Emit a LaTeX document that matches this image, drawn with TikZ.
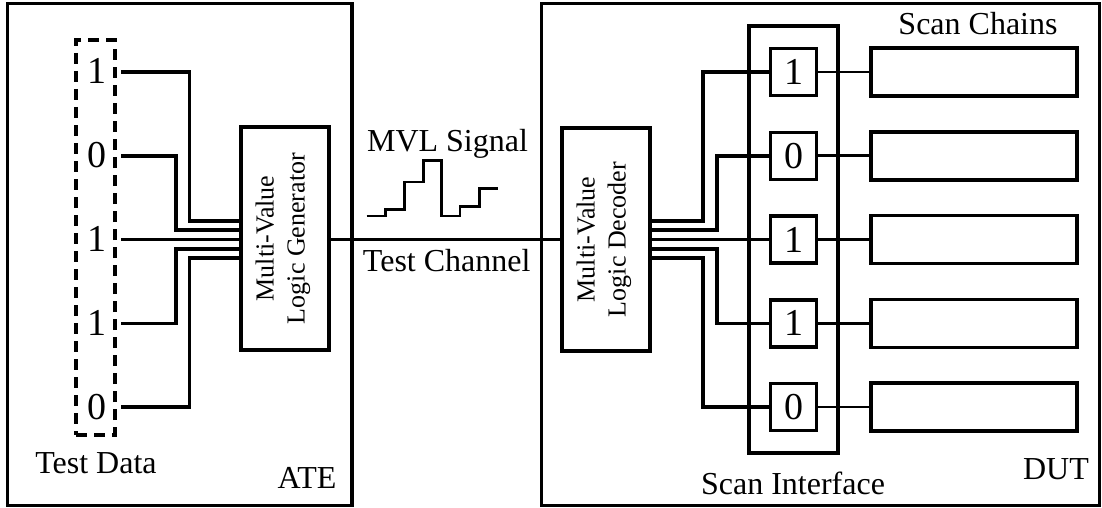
\documentclass[tikz,border=0pt]{standalone}
\usepackage{fontspec}
\setmainfont{Liberation Serif}
\usetikzlibrary{calc}
\begin{document}
\begin{tikzpicture}[x=1pt,y=-1pt,
  box/.style={draw, line width=3.5pt, inner sep=0pt},
  wire/.style={line width=3.5pt},
  thinwire/.style={line width=2.3pt},
  link/.style={line width=2.8pt},
  lbl/.style={font=\fontsize{32}{38}\selectfont, anchor=base, inner sep=0pt},
  dig/.style={font=\fontsize{38}{40}\selectfont, inner sep=0pt},
  rot/.style={font=\fontsize{26}{31}\selectfont, rotate=90, align=center, inner sep=0pt},
  cell/.style={box, minimum width=46pt, minimum height=47pt, font=\fontsize{38}{40}\selectfont},
  chain/.style={box, minimum width=206pt, minimum height=48pt}]
\useasboundingbox (0,0) rectangle (1102,508);

% outer boxes
\node[box, minimum width=344.3pt, minimum height=502pt] (ate) at (179.85,254.4) {};
\node[box, minimum width=557.8pt, minimum height=502pt] (dut) at (820.6,254.4) {};

% row coordinates
\coordinate (r1) at (0,72);
\coordinate (r2) at (0,155.75);
\coordinate (r3) at (0,239.5);
\coordinate (r4) at (0,323.25);
\coordinate (r5) at (0,407);

% test data
\node[draw, line width=3.5pt, dash pattern=on 11pt off 7pt, minimum width=39pt, minimum height=395pt, inner sep=0pt] (tdbox) at (95.5,237.5) {};
\node[dig, anchor=base] (d1) at (97,84) {1};
\node[dig, anchor=base] (d2) at (97,167.75) {0};
\node[dig, anchor=base] (d3) at (97,251.5) {1};
\node[dig, anchor=base] (d4) at (97,335.25) {1};
\node[dig, anchor=base] (d5) at (97,419) {0};

% generator
\node[box, minimum width=88pt, minimum height=223pt] (gen) at (285,238.5) {};
\node[rot] (genlbl) at (283,238.5) {Multi-Value\\Logic Generator};

% decoder
\node[box, minimum width=88pt, minimum height=223pt] (dec) at (606,239.5) {};
\node[rot] (declbl) at (604,239.5) {Multi-Value\\Logic Decoder};

% wire start points and bend columns (ATE)
\coordinate (s1) at (121,72);
\coordinate (s2) at (121,155.75);
\coordinate (s3) at (121,239.5);
\coordinate (s4) at (121,323.25);
\coordinate (s5) at (121,407);
\coordinate (xa) at (189.5,0);
\coordinate (xb) at (176,0);
\coordinate (gi1) at ($(gen.west |- r3)+(0,-18.6)$);
\coordinate (gi2) at ($(gen.west |- r3)+(0,-9.3)$);
\coordinate (gi4) at ($(gen.west |- r3)+(0,9.3)$);
\coordinate (gi5) at ($(gen.west |- r3)+(0,18.6)$);

\draw[wire] (s1) -| (gi1 -| xa) -- (gi1);
\draw[wire] (s2) -| (gi2 -| xb) -- (gi2);
\draw[thinwire] (s3) -- (gen.west |- s3);
\draw[wire] (s4) -| (gi4 -| xb) -- (gi4);
\draw[wire] (s5) -| (gi5 -| xa) -- (gi5);

% channel
\draw[thinwire] (gen.east |- r3) -- (dec.west |- r3);

% MVL waveform
\draw[line width=2.5pt] (366.7,216) -- (385.7,216) -- (385.7,209.5) -- (404.3,209.5) -- (404.3,182) -- (423.3,182) -- (423.3,160.3) -- (441.7,160.3) -- (441.7,216) -- (460,216) -- (460,206.7) -- (479.3,206.7) -- (479.3,188.3) -- (498.3,188.3);

% scan interface
\node[box, minimum width=89pt, minimum height=427pt] (sif) at (793.5,239.5) {};
\node[cell] (c1) at (793.5,72) {1};
\node[cell] (c2) at (793.5,155.75) {0};
\node[cell] (c3) at (793.5,239.5) {1};
\node[cell] (c4) at (793.5,323.25) {1};
\node[cell] (c5) at (793.5,407) {0};

% scan chains
\node[chain] (ch1) at (974,72) {};
\node[chain] (ch2) at (974,155.75) {};
\node[chain] (ch3) at (974,239.5) {};
\node[chain] (ch4) at (974,323.25) {};
\node[chain] (ch5) at (974,407) {};

% decoder outputs
\coordinate (xc) at (703,0);
\coordinate (xd) at (717,0);
\coordinate (do1) at ($(dec.east |- r3)+(0,-18.6)$);
\coordinate (do2) at ($(dec.east |- r3)+(0,-9.3)$);
\coordinate (do4) at ($(dec.east |- r3)+(0,9.3)$);
\coordinate (do5) at ($(dec.east |- r3)+(0,18.6)$);

\draw[wire] (do1) -| (c1.west -| xc) -- (c1.west);
\draw[wire] (do2) -| (c2.west -| xd) -- (c2.west);
\draw[thinwire] (dec.east |- r3) -- (c3.west);
\draw[wire] (do4) -| (c4.west -| xd) -- (c4.west);
\draw[wire] (do5) -| (c5.west -| xc) -- (c5.west);

\draw[link] (c1.east) -- (ch1.west);
\draw[link] (c2.east) -- (ch2.west);
\draw[link] (c3.east) -- (ch3.west);
\draw[link] (c4.east) -- (ch4.west);
\draw[link] (c5.east) -- (ch5.west);

% labels
\node[lbl] (ltd) at (96,473) {Test Data};
\node[lbl] (late) at (307,488.5) {ATE};
\node[lbl] (lmvl) at (447.5,151.7) {MVL Signal};
\node[lbl] (ltc) at (446.7,271.5) {Test Channel};
\node[lbl] (lsc) at (978,34.5) {Scan Chains};
\node[lbl] (lsi) at (793,494.5) {Scan Interface};
\node[lbl] (ldut) at (1056,479.5) {DUT};
\end{tikzpicture}
\end{document}
